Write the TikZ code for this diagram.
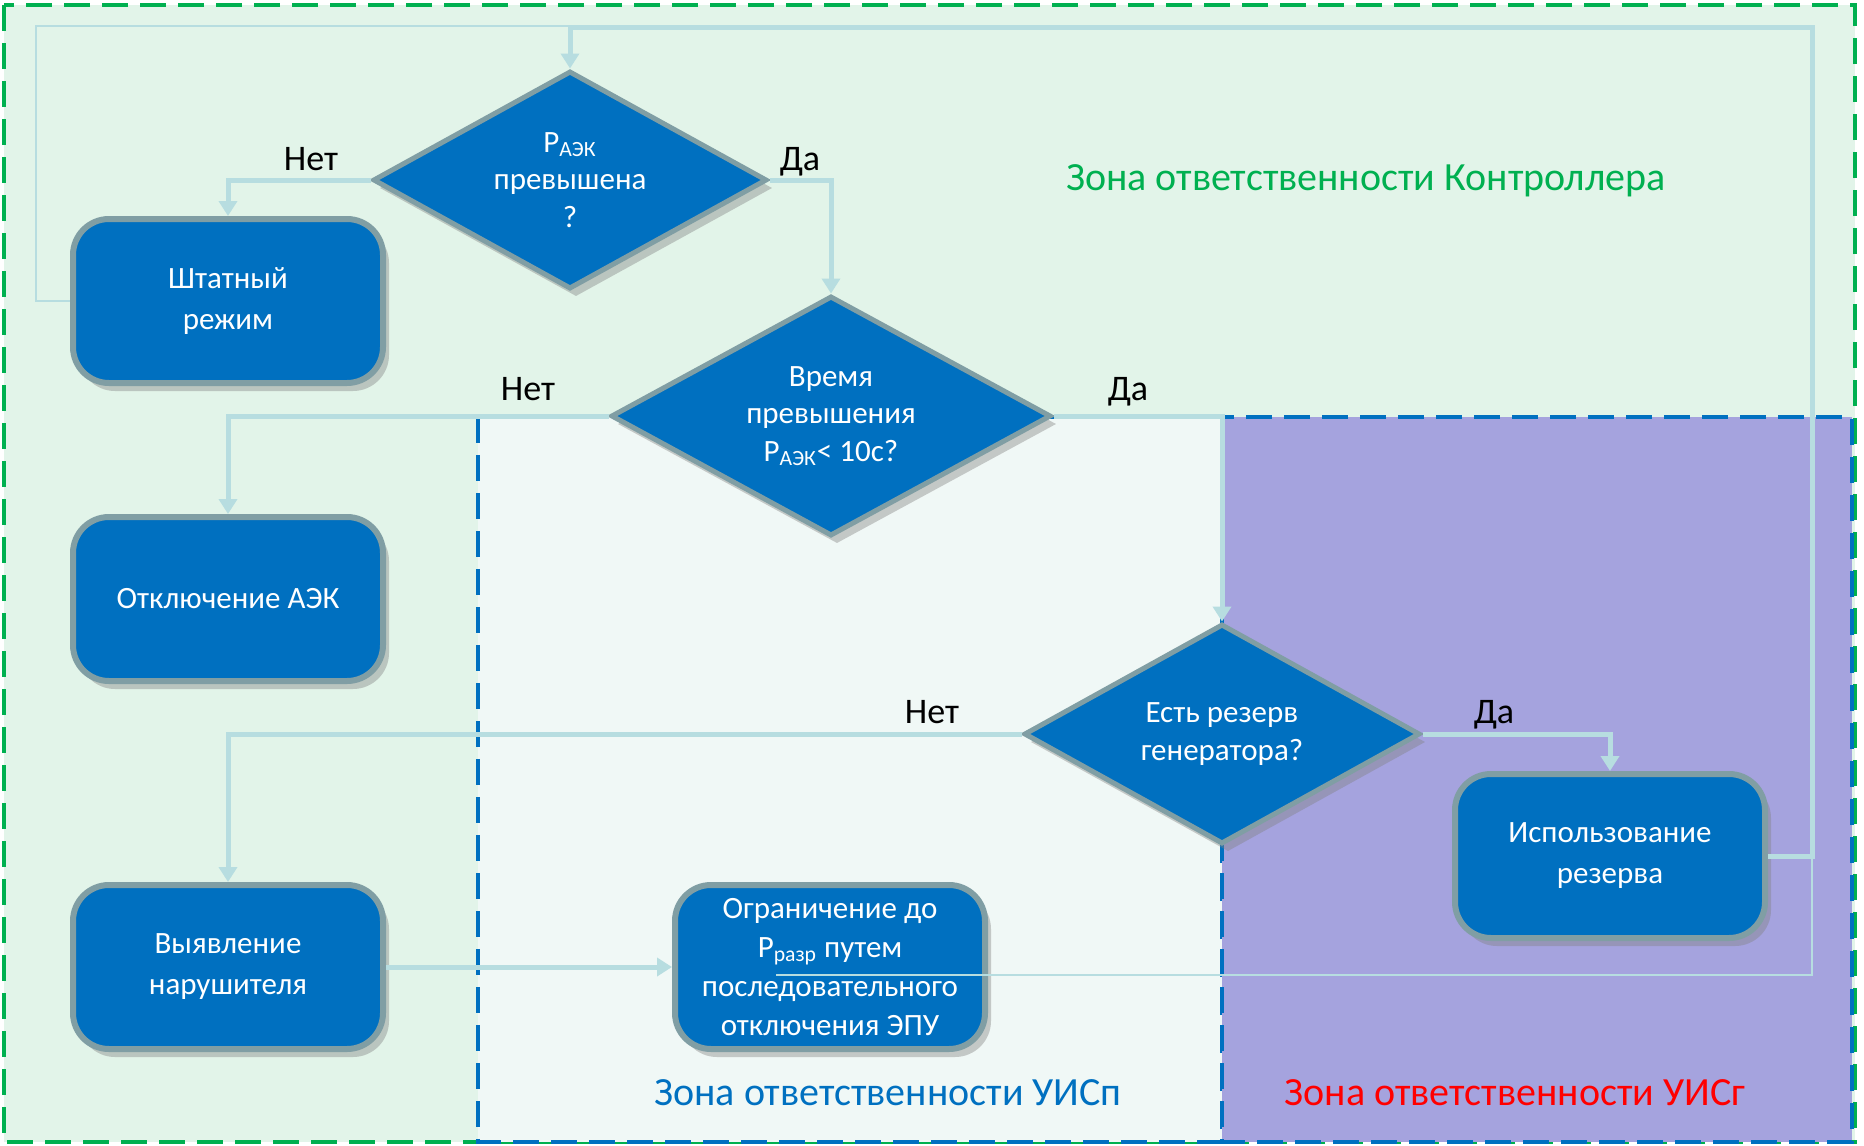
\documentclass[tikz,border=0pt]{standalone}
\usepackage{fontspec}
\setmainfont{Carlito}
\usetikzlibrary{shapes.geometric,arrows.meta,shadows}
\definecolor{zgreen}{RGB}{226,244,233}
\definecolor{zpale}{RGB}{240,248,246}
\definecolor{zpurple}{RGB}{165,163,222}
\definecolor{dgreen}{RGB}{0,176,80}
\definecolor{dblue}{RGB}{0,112,192}
\definecolor{boxblue}{RGB}{0,112,192}
\definecolor{boxedge}{RGB}{128,158,164}
\definecolor{conn}{RGB}{183,221,224}
\begin{document}
\begin{tikzpicture}[x=0.5pt,y=-0.5pt,
 procbox/.style={draw=boxedge, line width=3pt, fill=boxblue, rounded corners=18pt,
   minimum width=155pt, minimum height=82pt, text=white, align=center,
   font=\fontsize{15.5}{20.5}\selectfont,
   drop shadow={shadow xshift=3pt, shadow yshift=-4pt, opacity=0.4}},
 decision/.style={diamond, draw=boxedge, line width=2.5pt, fill=boxblue, inner sep=0pt,
   drop shadow={shadow xshift=3pt, shadow yshift=-4pt, opacity=0.4}},
 dtext/.style={text=white, align=center, font=\fontsize{15.5}{18.8}\selectfont},
 flow/.style={draw=conn, line width=2.5pt},
 thinflow/.style={draw=conn, line width=1.3pt},
 arr/.style={-{Triangle[length=7.5pt,width=9pt]}},
 lbl/.style={font=\fontsize{18}{20}\selectfont, anchor=base, text=black},
 zonelbl/.style={font=\fontsize{20}{24}\selectfont, anchor=base},
 zonedash/.style={line width=2.2pt, dash pattern=on 13pt off 6pt},
]
\useasboundingbox (0,0) rectangle (1864,1146);
\fill[white] (0,0) rectangle (1864,1146);

% zones
\draw[zonedash, fill=zgreen, draw=dgreen] (4,5) rectangle (1855,1142);
\draw[zonedash, fill=zpale, draw=dblue] (478,417) rectangle (1222,1142);
\draw[zonedash, fill=zpurple, draw=dblue] (1222,417) rectangle (1852,1142);

% zone labels
\node[zonelbl, text=dgreen] (zl1) at (1366,190) {Зона ответственности Контроллера};
\node[zonelbl, text=dblue] (zl2) at (888,1105) {Зона ответственности УИСп};
\node[zonelbl, text=red] (zl3) at (1515,1105) {Зона ответственности УИСг};

% nodes
\node[decision, minimum width=197pt, minimum height=109pt,
  label={[dtext]center:{P\textsubscript{АЭК}\\превышена\\?}}] (d1) at (570,180) {};
\node[decision, minimum width=220pt, minimum height=120pt,
  label={[dtext]center:{Время\\превышения\\P\textsubscript{АЭК}< 10с?}}] (d2) at (831,416) {};
\node[decision, minimum width=198pt, minimum height=110pt,
  label={[dtext]center:{Есть резерв\\генератора?}}] (d3) at (1222,734) {};

\node[procbox] (b1) at (228,301) {Штатный\\режим};
\node[procbox] (b2) at (228,599) {Отключение АЭК};
\node[procbox] (b3) at (228,967) {Выявление\\нарушителя};
\node[procbox, font=\fontsize{15.5}{19.5}\selectfont] (b4) at (830,967) {Ограничение до\\P\textsubscript{разр} путем\\последовательного\\отключения ЭПУ};
\node[procbox] (b5) at (1610,856) {Использование\\резерва};

% helper coordinates
\coordinate (c1) at (1812,27);
\coordinate (c2) at (36,26);
\coordinate (c3) at (1812,975);
\coordinate (c4) at (776,975);

% connectors
\draw[flow, arr] (d1.west) -| (b1.north);
\draw[flow, arr] (d1.east) -| (d2.north);
\draw[flow, arr] (d2.west) -| (b2.north);
\draw[flow, arr] (d2.east) -| (d3.north);
\draw[flow, arr] (d3.west) -| (b3.north);
\draw[flow, arr] (d3.east) -| (b5.north);
\draw[flow, arr] (b3.east) -- (b4.west);
\draw[thinflow] (b1.west) -| (c2) -- (c2 -| d1.north);
\draw[flow, arr] (b5.east) -| (c1) -| (d1.north);
\draw[thinflow] (c1 |- b5.east) -- (c3) -- (c4);

% labels
\node[lbl] (l1) at (311,170) {Нет};
\node[lbl] (l2) at (800,170) {Да};
\node[lbl] (l3) at (528,400) {Нет};
\node[lbl] (l4) at (1128,400) {Да};
\node[lbl] (l5) at (932,723) {Нет};
\node[lbl] (l6) at (1494,723) {Да};
\end{tikzpicture}
\end{document}
